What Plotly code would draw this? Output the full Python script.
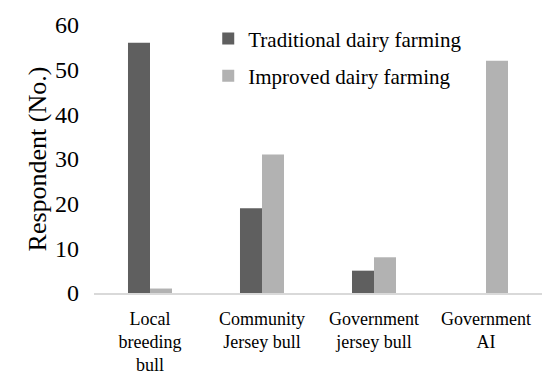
import plotly.graph_objects as go

categories = ["Local<br>breeding<br>bull", "Community<br>Jersey bull",
              "Government<br>jersey bull", "Government<br>AI"]
traditional = [56, 19, 5, 0]
improved = [1, 31, 8, 52]
y_ticks = [0, 10, 20, 30, 40, 50, 60]

FONT = "Liberation Serif"

fig = go.Figure()
fig.add_trace(go.Bar(name="Traditional dairy farming", x=categories, y=traditional,
                     marker=dict(color="#5f5f5f", line=dict(width=0)),
                     legendgroup="a"))
fig.add_trace(go.Bar(name="Improved dairy farming", x=categories, y=improved,
                     marker=dict(color="#b2b2b2", line=dict(width=0)),
                     legendgroup="b"))

fig.update_layout(
    width=542, height=376,
    margin=dict(l=94, r=0, t=25, b=83),
    paper_bgcolor="white", plot_bgcolor="white",
    barmode="group", bargap=0.607, bargroupgap=0,
    font=dict(family=FONT, color="black", size=21),
    legend=dict(x=0.255, y=1.025, xanchor="left", yanchor="top",
                bgcolor="rgba(0,0,0,0)", font=dict(family=FONT, size=21),
                traceorder="grouped", tracegroupgap=7),
    xaxis=dict(showline=True, linecolor="#d9d9d9", linewidth=2, ticks="",
               showgrid=False, tickfont=dict(family=FONT, size=18),
               ticklabelstandoff=8, automargin=False),
    yaxis=dict(range=[0, 60], tickvals=y_ticks, showgrid=False, showline=False,
               zeroline=False, ticks="", tickfont=dict(family=FONT, size=24),
               ticklabelstandoff=14, automargin=False,
               title=dict(text="Respondent (No.)", font=dict(family=FONT, size=26), standoff=0)),
)

fig.write_html("out.html")
